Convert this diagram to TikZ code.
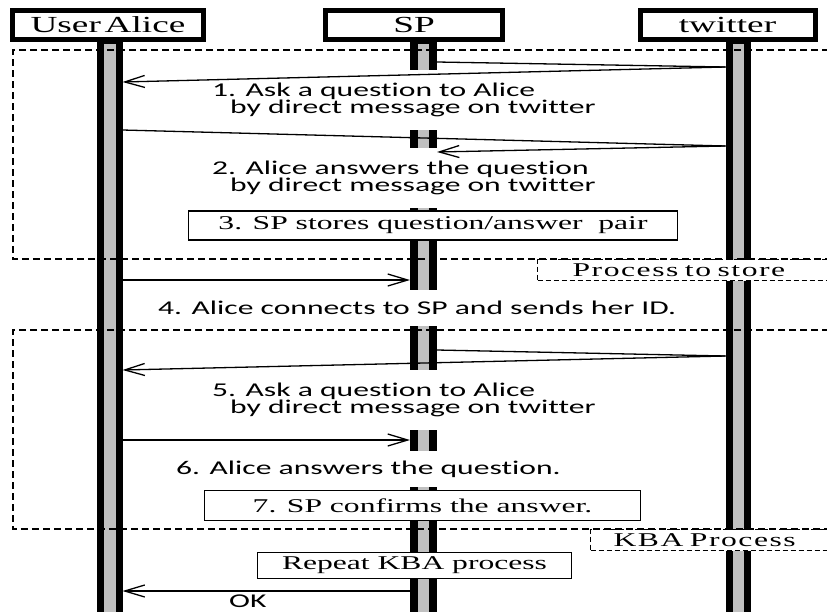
\documentclass[tikz,border=0pt]{standalone}
\usepackage{fontspec}
\usepackage{tikz}
\usetikzlibrary{arrows.meta}
\setmainfont{Liberation Serif}[FakeStretch=1.62]
\newfontfamily\msgfont{Carlito}[FakeStretch=1.62,Ligatures=NoCommon]
\definecolor{lifegray}{RGB}{192,192,192}

\begin{document}
\begin{tikzpicture}[x=1pt,y=-1pt,
  head/.style={draw,line width=5pt,fill=white,minimum height=29pt,inner sep=0pt,font=\fontsize{23pt}{23pt}\selectfont},
  life/.style={draw,fill=lifegray},
  frame/.style={line width=1.6pt,dash pattern=on 7pt off 4pt},
  lbl/.style={fill=white,inner xsep=2pt,inner ysep=0pt,align=left,anchor=west,font=\msgfont\fontsize{19.5pt}{17.5pt}\selectfont},
  msg/.style={line width=1.3pt,-{Straight Barb[length=20pt,width=12pt]}},
  line/.style={line width=1.3pt},
  box/.style={draw,line width=1.4pt,fill=white,inner sep=0pt,font=\fontsize{19.5pt}{19.5pt}\selectfont},
  procbox/.style={draw,line width=1.2pt,dash pattern=on 5pt off 3pt,fill=white,anchor=north west,minimum height=21pt,inner ysep=0pt,align=left,font=\fontsize{19.5pt}{19.5pt}\selectfont\addfontfeatures{LetterSpace=8}}]

\clip (0,0) rectangle (827,611);

\draw[life,line width=7pt] (100.5,40) rectangle (119,620);
\draw[life,line width=8pt] (414,40) rectangle (433,620);
\draw[life,line width=7pt] (729,40) rectangle (747,620);

\draw[frame] (840,50) -| (13,259) -- (840,259);
\draw[frame] (840,330) -| (13,529) -- (840,529);

\node[head,minimum width=191pt] (alice) at (108,25) {User\,Alice};
\node[head,minimum width=177pt] (sp) at (414,25) {SP};
\node[head,minimum width=175pt] (twitter) at (727.5,25) {twitter};

\node[lbl,minimum height=60pt] (q1) at (210,100) {1. Ask a question to Alice\\\hspace*{18pt}by direct message on twitter};
\node[lbl,minimum height=60pt] (q2) at (210,178) {2. Alice answers the question\\\hspace*{18pt}by direct message on twitter};
\node[lbl,minimum height=36pt] (q4) at (156,308) {4. Alice connects to SP and sends her ID.};
\node[lbl,minimum height=60pt] (q5) at (210,400) {5. Ask a question to Alice\\\hspace*{18pt}by direct message on twitter};
\node[lbl,minimum height=36pt] (q6) at (174,469) {6. Alice answers the question.};
\node[lbl,fill=none] (ok) at (227,601) {OK};

\coordinate (s1) at (437,62);
\coordinate (t1) at (725.5,67);
\coordinate (a1) at (122.5,82);
\coordinate (a2) at (122.5,130);
\coordinate (t2) at (725.5,146);
\coordinate (s2) at (437,152);
\coordinate (a4) at (122.5,280);
\coordinate (s4) at (410,280);
\coordinate (s5) at (437,350);
\coordinate (t5) at (725.5,356);
\coordinate (a5) at (122.5,370);
\coordinate (a6) at (122.5,440);
\coordinate (s6) at (410,440);
\coordinate (s8) at (410,591);
\coordinate (a8) at (122.5,591);

\draw[line] (s1) -- (t1);
\draw[msg] (t1) -- (a1);
\draw[line] (a2) -- (t2);
\draw[msg] (t2) -- (s2);
\draw[msg] (a4) -- (s4);
\draw[line] (s5) -- (t5);
\draw[msg] (t5) -- (a5);
\draw[msg] (a6) -- (s6);
\draw[msg] (s8) -- (a8);

\node[box,minimum width=489pt,minimum height=29pt] (store) at (433,225.5) {3. SP stores question/answer\ \ pair};
\node[box,minimum width=436pt,minimum height=30pt] (confirm) at (422.5,505.5) {7. SP confirms the answer.};
\node[box,minimum width=314pt,minimum height=26pt] (repeat) at (414.5,565.5) {Repeat KBA process};

\node[procbox,inner xsep=35pt,text width=260pt] (pstore) at (537,259) {Process to store};
\node[procbox,inner xsep=23pt,text width=260pt] (pkba) at (590,529) {KBA Process};
\end{tikzpicture}
\end{document}
